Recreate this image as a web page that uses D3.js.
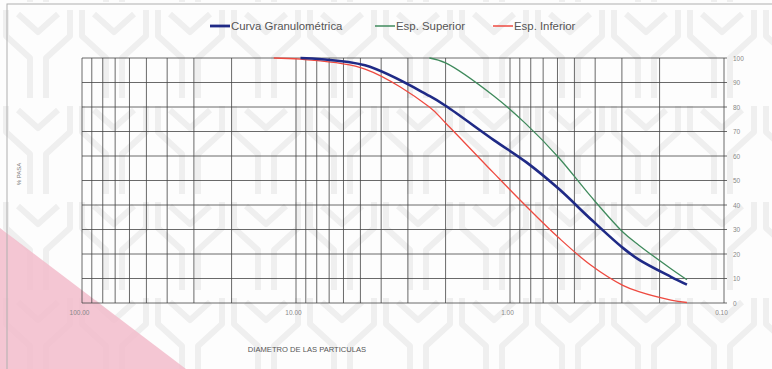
<!DOCTYPE html>
<html>
<head>
<meta charset="utf-8">
<script src="https://cdn.jsdelivr.net/npm/d3@7"></script>
<style>
  html, body { margin: 0; padding: 0; background: #fdfdfd; }
  svg { display: block; }
  text { font-family: "Liberation Sans", Arial, sans-serif; }
</style>
</head>
<body>
<svg id="chart" width="772" height="369"></svg>
<script>
// Sieve openings (mm) and percent passing for each curve
const sieveSizes = [12.7, 9.525, 4.76, 2.38, 2.0, 1.19, 0.84, 0.59, 0.42, 0.297, 0.25, 0.177, 0.149];
const curvaGranulometrica = [null, 100, 97, 84.5, 80.5, 66.5, 57.5, 46.5, 34.3, 22.5, 17.7, 10.7, 7.5];
const espSuperior = [null, null, null, 100, 98, 84.5, 73, 59.2, 43.6, 29, 23.6, 14, 9.5];
const espInferior = [100, 99.5, 95.5, 80, 73.5, 53, 39.5, 26.5, 15.5, 7.2, 4.6, 1.2, 0.2];

const xTickValues = [100, 10, 1, 0.1];
const xTickLabels = ["100.00", "10.00", "1.00", "0.10"];
const yTickValues = [0, 10, 20, 30, 40, 50, 60, 70, 80, 90, 100];

const seriesNames = ["Curva Granulométrica", "Esp. Superior", "Esp. Inferior"];
const seriesColors = ["#1f2a86", "#3f8a5c", "#ee4a40"];
const seriesWidths = [2.6, 1.3, 1.3];

const svg = d3.select("#chart");
const W = 772, H = 369;

// Background: watermark pattern, pink corner band and frame
const defs = svg.append("defs");
const pat = defs.append("pattern")
  .attr("id", "wm").attr("patternUnits", "userSpaceOnUse")
  .attr("width", 76).attr("height", 96).attr("x", 0).attr("y", 6);
pat.append("path")
  .attr("d", "M6,4 V30 L30,52 V92 M70,4 V30 L46,52 V92 M18,8 L38,26 L58,8")
  .attr("fill", "none").attr("stroke", "#efefef").attr("stroke-width", 6)
  .attr("stroke-linejoin", "round");
svg.append("rect").attr("width", W).attr("height", H).attr("fill", "#fdfdfd");
svg.append("rect").attr("width", W).attr("height", H).attr("fill", "url(#wm)");
svg.append("path")
  .attr("d", `M0,228 L186,${H} L0,${H} Z`)
  .attr("fill", "#f2bccb").attr("opacity", 0.85);
svg.append("rect").attr("x", 7).attr("y", 4).attr("width", W).attr("height", H)
  .attr("fill", "none").attr("stroke", "#b0b0b0").attr("stroke-width", 1);

// Scales
const x = d3.scaleLog().domain([100, 0.1]).range([82, 724]);
const y = d3.scaleLinear().domain([0, 100]).range([303, 58]);

// Vertical grid at every log step
const vGrid = [];
[10, 1, 0.1].forEach(base => {
  for (let k = 1; k <= 9; k++) vGrid.push(base * k);
});
vGrid.push(100);
const grid = svg.append("g");
grid.selectAll("line.v").data(vGrid).join("line")
  .attr("class", "v")
  .attr("x1", d => x(d)).attr("x2", d => x(d))
  .attr("y1", y(100)).attr("y2", y(0))
  .attr("stroke", "#444").attr("stroke-width", 0.8);

// Horizontal grid
grid.selectAll("line.h").data(yTickValues).join("line")
  .attr("class", "h")
  .attr("x1", x(100)).attr("x2", x(0.1) + 3)
  .attr("y1", d => y(d)).attr("y2", d => y(d))
  .attr("stroke", "#444").attr("stroke-width", 0.8);

// Right-hand axis labels
const yAxis = d3.axisRight(y).tickValues(yTickValues).tickSize(0).tickPadding(9);
const gy = svg.append("g").attr("transform", `translate(${x(0.1)},0)`).call(yAxis);
gy.select(".domain").remove();
gy.selectAll("text").attr("fill", "#888").style("font-size", "6.5px");

// Bottom axis labels
const xAxis = d3.axisBottom(x).tickValues(xTickValues)
  .tickFormat((d, i) => xTickLabels[i]).tickSize(0).tickPadding(7);
const gx = svg.append("g").attr("transform", `translate(-3,${y(0)})`).call(xAxis);
gx.select(".domain").remove();
gx.selectAll("text").attr("fill", "#888").style("font-size", "6.5px");

// Axis titles
svg.append("text").attr("x", 307).attr("y", 352).attr("text-anchor", "middle")
  .attr("fill", "#555").style("font-size", "7.6px")
  .text("DIAMETRO DE LAS PARTICULAS");
svg.append("text").attr("transform", "translate(21,174) rotate(-90)")
  .attr("text-anchor", "middle").attr("fill", "#777").style("font-size", "6px")
  .text("% PASA");

// Curves
const line = d3.line()
  .defined(d => d.v !== null)
  .x(d => x(d.d)).y(d => y(d.v))
  .curve(d3.curveCatmullRom.alpha(0.5));
const seriesData = [curvaGranulometrica, espSuperior, espInferior];
const drawOrder = [1, 2, 0];
drawOrder.forEach(i => {
  const pts = sieveSizes.map((d, j) => ({ d, v: seriesData[i][j] }));
  svg.append("path").datum(pts)
    .attr("d", line)
    .attr("fill", "none")
    .attr("stroke", seriesColors[i])
    .attr("stroke-width", seriesWidths[i])
    .attr("stroke-linejoin", "round");
});

// Legend
const legendX = [210, 375, 493];
const lg = svg.append("g");
seriesNames.forEach((name, i) => {
  const g = lg.append("g").attr("transform", `translate(${legendX[i]},26)`);
  g.append("line").attr("x1", 0).attr("x2", 20).attr("y1", 0).attr("y2", 0)
    .attr("stroke", seriesColors[i]).attr("stroke-width", seriesWidths[i] + 0.2);
  g.append("text").attr("x", 21).attr("y", 4).attr("fill", "#555")
    .style("font-size", "11.4px").text(name);
});
</script>
</body>
</html>
